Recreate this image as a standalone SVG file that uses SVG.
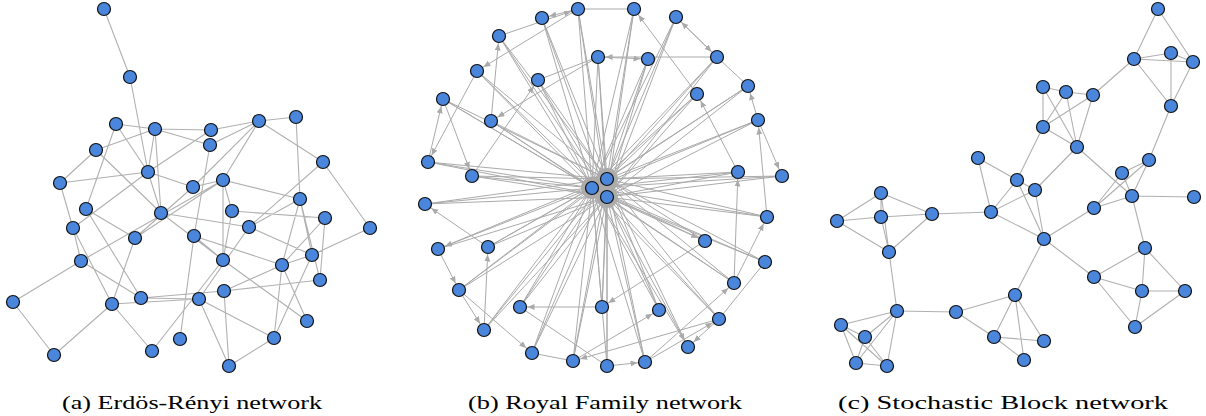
<svg xmlns="http://www.w3.org/2000/svg" width="1206" height="416" viewBox="0 0 1206 416">
<style>
.e{stroke:#b0b0b0;stroke-width:1.1;fill:none}
.eb{stroke:#aaaaaa;stroke-width:1;fill:none}
.ea{stroke:#aaaaaa;stroke-width:1;fill:none;marker-end:url(#ar)}
.n{fill:#4a86dc;stroke:#111;stroke-width:1.2}
.blob{fill:#ababab}
.cap{font-family:"Liberation Serif","DejaVu Serif",serif;font-size:19px;fill:#000}
</style>
<defs>
<marker id="ar" markerUnits="userSpaceOnUse" markerWidth="8" markerHeight="8" refX="14.5" refY="3" orient="auto"><path d="M0,0L7,3L0,6z" fill="#aaaaaa"/></marker>
</defs>
<rect width="1206" height="416" fill="#fff"/>

<!-- Panel A connectors -->
<g id="connectors-a" class="e">
<path d="M104,9L130,77M130,77L148,172M116,124L155,129M116,124L148,172M116,124L86,209M155,129L211,130M155,129L96,150M155,129L161,213M155,129L148,172M211,130L259,121M211,130L148,172M155,129L210,145M259,121L296,117M259,121L210,145M259,121L223,180M259,121L193,187M259,121L323,162M296,117L300,199M96,150L60,183M96,150L161,213M323,162L249,227M323,162L370,228M60,183L148,172M60,183L73,228M148,172L193,187M148,172L161,213M148,172L73,228M223,180L193,187M223,180L300,199M223,180L223,260M210,145L194,236M223,180L232,211M135,238L223,180M81,261L223,180M135,238L193,187"/>
<path d="M86,209L135,238M86,209L141,298M73,228L81,261M73,228L112,304M81,261L13,302M81,261L141,298M13,302L54,355M54,355L112,304M112,304L152,351M112,304L135,238M112,304L199,299M141,298L199,299M141,298L224,291M152,351L223,260M161,213L223,260M161,213L249,227M194,236L282,265M194,236L223,260M194,236L180,339M232,211L325,218M232,211L223,260M249,227L312,255M300,199L249,227M300,199L312,255M300,199L320,280M300,199L282,265M325,218L282,265M325,218L320,280M370,228L312,255M312,255L282,265M312,255L274,338M282,265L224,291M282,265L274,338M282,265L307,321M224,291L320,280M224,291L229,366M199,299L229,366M199,299L274,338M274,338L229,366M199,299L249,227M223,260L307,321"/>
</g>

<!-- Panel B connectors -->
<g id="connectors-b">
<g class="eb">
<path d="M592,188L578,9M607,179L578,9M607,197L578,9"/>
<path d="M592,188L542,18M607,179L542,18M607,197L542,18"/>
<path d="M592,188L499,36M607,179L499,36M607,197L499,36"/>
<path d="M592,188L598,57M607,179L598,57M607,197L598,57"/>
<path d="M592,188L477,71M607,179L477,71M607,197L477,71"/>
<path d="M592,188L538,80M607,179L538,80M607,197L538,80"/>
<path d="M592,188L443,99M607,179L443,99M607,197L443,99"/>
<path d="M592,188L491,121M607,179L491,121M607,197L491,121"/>
<path d="M592,188L428,162M607,179L428,162M607,197L428,162"/>
<path d="M592,188L472,176M607,179L472,176M607,197L472,176"/>
<path d="M592,188L634,9M607,179L634,9M607,197L634,9"/>
<path d="M592,188L676,17M607,179L676,17M607,197L676,17"/>
<path d="M592,188L648,59M607,179L648,59M607,197L648,59"/>
<path d="M592,188L717,57M607,179L717,57M607,197L717,57"/>
<path d="M592,188L748,86M607,179L748,86M607,197L748,86"/>
<path d="M592,188L697,94M607,179L697,94M607,197L697,94"/>
<path d="M592,188L758,120M607,179L758,120M607,197L758,120"/>
<path d="M592,188L738,172M607,179L738,172M607,197L738,172"/>
<path d="M592,188L782,176M607,179L782,176M607,197L782,176"/>
<path d="M592,188L425,204M607,179L425,204M607,197L425,204"/>
<path d="M607,179L438,249M607,197L438,249"/>
<path d="M592,188L488,247M607,179L488,247M607,197L488,247"/>
<path d="M592,188L459,290M607,179L459,290M607,197L459,290"/>
<path d="M592,188L520,307M607,179L520,307M607,197L520,307"/>
<path d="M592,188L484,330M607,179L484,330M607,197L484,330"/>
<path d="M592,188L532,353M607,179L532,353M607,197L532,353"/>
<path d="M592,188L573,361M607,179L573,361M607,197L573,361"/>
<path d="M592,188L602,307M607,179L602,307M607,197L602,307"/>
<path d="M592,188L607,366M607,179L607,366M607,197L607,366"/>
<path d="M592,188L767,217M607,179L767,217M607,197L767,217"/>
<path d="M592,188L705,241M607,179L705,241"/>
<path d="M592,188L765,262M607,179L765,262M607,197L765,262"/>
<path d="M592,188L734,283M607,179L734,283M607,197L734,283"/>
<path d="M592,188L659,310M607,179L659,310M607,197L659,310"/>
<path d="M592,188L719,319M607,179L719,319M607,197L719,319"/>
<path d="M592,188L688,347M607,179L688,347"/>
<path d="M592,188L645,362M607,179L645,362M607,197L645,362"/>
<path d="M578,9L634,9M538,80L598,57M717,57L748,86M520,307L607,366M532,353L573,361M719,319L765,262"/>
</g>
<g class="ea">
<path d="M592,188L438,249"/>
<path d="M607,197L705,241"/>
<path d="M607,197L688,347"/>
<path d="M499,36L578,9"/>
<path d="M578,9L542,18"/>
<path d="M578,9L477,71"/>
<path d="M598,57L491,121"/>
<path d="M472,176L538,80"/>
<path d="M491,121L499,36"/>
<path d="M428,162L443,99"/>
<path d="M477,71L428,162"/>
<path d="M443,99L472,176"/>
<path d="M697,94L634,9"/>
<path d="M676,17L717,57"/>
<path d="M717,57L676,17"/>
<path d="M717,57L598,57"/>
<path d="M598,57L648,59"/>
<path d="M758,120L748,86"/>
<path d="M758,120L782,176"/>
<path d="M738,172L697,94"/>
<path d="M767,217L758,120"/>
<path d="M734,283L738,172"/>
<path d="M488,247L425,204"/>
<path d="M438,249L459,290"/>
<path d="M484,330L488,247"/>
<path d="M459,290L484,330"/>
<path d="M459,290L532,353"/>
<path d="M602,307L520,307"/>
<path d="M719,319L573,361"/>
<path d="M573,361L659,310"/>
<path d="M705,241L602,307"/>
<path d="M719,319L688,347"/>
<path d="M607,366L645,362"/>
<path d="M645,362L734,283"/>
<path d="M645,362L719,319"/>
<path d="M734,283L767,217"/>
</g>
</g>

<!-- Panel C connectors -->
<g id="connectors-c" class="e">
<path d="M1158,9L1134,59M1158,9L1193,62M1134,59L1171,53M1134,59L1193,62M1171,53L1193,62M1171,53L1171,106M1134,59L1171,106M1193,62L1171,106M1134,59L1093,95M1171,106L1149,160"/>
<path d="M1043,87L1066,92M1066,92L1093,95M1043,87L1043,127M1043,87L1077,147M1066,92L1043,127M1066,92L1077,147M1093,95L1043,127M1093,95L1077,147M1043,127L1077,147M1043,127L1017,180M1077,147L1035,190M1077,147L1132,196"/>
<path d="M978,158L1017,180M978,158L991,212M1017,180L1035,190M1017,180L991,212M1035,190L991,212M1017,180L1044,239M1035,190L1044,239M991,212L1044,239M991,212L932,214"/>
<path d="M1044,239L1094,208M1044,239L1094,277M1044,239L1015,295"/>
<path d="M1149,160L1122,173M1149,160L1094,208M1149,160L1132,196M1122,173L1094,208M1122,173L1132,196M1094,208L1132,196M1132,196L1194,197M1132,196L1145,248"/>
<path d="M1145,248L1094,277M1145,248L1142,291M1145,248L1185,291M1094,277L1142,291M1094,277L1135,327M1142,291L1185,291M1142,291L1135,327M1185,291L1135,327"/>
<path d="M1015,295L956,312M1015,295L994,337M1015,295L1024,360M1015,295L1044,341M956,312L994,337M994,337L1044,341M994,337L1024,360M956,312L897,311"/>
<path d="M881,193L837,221M881,193L881,217M881,193L932,214M881,193L889,252M837,221L881,217M837,221L889,252M881,217L932,214M881,217L889,252M932,214L889,252M889,252L897,311"/>
<path d="M897,311L841,325M897,311L865,337M897,311L856,363M897,311L887,366M841,325L865,337M841,325L856,363M841,325L887,366M865,337L856,363M865,337L887,366M856,363L887,366"/>
</g>

<!-- center blob -->
<g id="hub-b">
<circle class="blob" cx="592" cy="188" r="11"/>
<circle class="blob" cx="607" cy="179" r="11"/>
<circle class="blob" cx="607" cy="197" r="11"/>
</g>

<!-- Panel A nodes -->
<g id="nodes-a">
<circle id="a1" class="n" cx="104" cy="9" r="6.5"/>
<circle id="a2" class="n" cx="130" cy="77" r="6.5"/>
<circle id="a3" class="n" cx="116" cy="124" r="6.5"/>
<circle id="a4" class="n" cx="155" cy="129" r="6.5"/>
<circle id="a5" class="n" cx="211" cy="130" r="6.5"/>
<circle id="a6" class="n" cx="259" cy="121" r="6.5"/>
<circle id="a7" class="n" cx="296" cy="117" r="6.5"/>
<circle id="a8" class="n" cx="96" cy="150" r="6.5"/>
<circle id="a9" class="n" cx="210" cy="145" r="6.5"/>
<circle id="a10" class="n" cx="323" cy="162" r="6.5"/>
<circle id="a11" class="n" cx="60" cy="183" r="6.5"/>
<circle id="a12" class="n" cx="148" cy="172" r="6.5"/>
<circle id="a13" class="n" cx="223" cy="180" r="6.5"/>
<circle id="a14" class="n" cx="193" cy="187" r="6.5"/>
<circle id="a15" class="n" cx="86" cy="209" r="6.5"/>
<circle id="a16" class="n" cx="161" cy="213" r="6.5"/>
<circle id="a17" class="n" cx="232" cy="211" r="6.5"/>
<circle id="a18" class="n" cx="300" cy="199" r="6.5"/>
<circle id="a19" class="n" cx="325" cy="218" r="6.5"/>
<circle id="a20" class="n" cx="249" cy="227" r="6.5"/>
<circle id="a21" class="n" cx="370" cy="228" r="6.5"/>
<circle id="a22" class="n" cx="73" cy="228" r="6.5"/>
<circle id="a23" class="n" cx="135" cy="238" r="6.5"/>
<circle id="a24" class="n" cx="194" cy="236" r="6.5"/>
<circle id="a25" class="n" cx="312" cy="255" r="6.5"/>
<circle id="a26" class="n" cx="81" cy="261" r="6.5"/>
<circle id="a27" class="n" cx="223" cy="260" r="6.5"/>
<circle id="a28" class="n" cx="282" cy="265" r="6.5"/>
<circle id="a29" class="n" cx="320" cy="280" r="6.5"/>
<circle id="a30" class="n" cx="224" cy="291" r="6.5"/>
<circle id="a31" class="n" cx="141" cy="298" r="6.5"/>
<circle id="a32" class="n" cx="199" cy="299" r="6.5"/>
<circle id="a33" class="n" cx="13" cy="302" r="6.5"/>
<circle id="a34" class="n" cx="112" cy="304" r="6.5"/>
<circle id="a35" class="n" cx="307" cy="321" r="6.5"/>
<circle id="a36" class="n" cx="180" cy="339" r="6.5"/>
<circle id="a37" class="n" cx="274" cy="338" r="6.5"/>
<circle id="a38" class="n" cx="152" cy="351" r="6.5"/>
<circle id="a39" class="n" cx="54" cy="355" r="6.5"/>
<circle id="a40" class="n" cx="229" cy="366" r="6.5"/>
</g>

<!-- Panel B nodes -->
<g id="nodes-b">
<circle id="b1" class="n" cx="578" cy="9" r="6.5"/>
<circle id="b2" class="n" cx="542" cy="18" r="6.5"/>
<circle id="b3" class="n" cx="499" cy="36" r="6.5"/>
<circle id="b4" class="n" cx="598" cy="57" r="6.5"/>
<circle id="b5" class="n" cx="477" cy="71" r="6.5"/>
<circle id="b6" class="n" cx="538" cy="80" r="6.5"/>
<circle id="b7" class="n" cx="443" cy="99" r="6.5"/>
<circle id="b8" class="n" cx="491" cy="121" r="6.5"/>
<circle id="b9" class="n" cx="428" cy="162" r="6.5"/>
<circle id="b10" class="n" cx="472" cy="176" r="6.5"/>
<circle id="b11" class="n" cx="634" cy="9" r="6.5"/>
<circle id="b12" class="n" cx="676" cy="17" r="6.5"/>
<circle id="b13" class="n" cx="648" cy="59" r="6.5"/>
<circle id="b14" class="n" cx="717" cy="57" r="6.5"/>
<circle id="b15" class="n" cx="748" cy="86" r="6.5"/>
<circle id="b16" class="n" cx="697" cy="94" r="6.5"/>
<circle id="b17" class="n" cx="758" cy="120" r="6.5"/>
<circle id="b18" class="n" cx="738" cy="172" r="6.5"/>
<circle id="b19" class="n" cx="782" cy="176" r="6.5"/>
<circle id="b20" class="n" cx="425" cy="204" r="6.5"/>
<circle id="b21" class="n" cx="438" cy="249" r="6.5"/>
<circle id="b22" class="n" cx="488" cy="247" r="6.5"/>
<circle id="b23" class="n" cx="459" cy="290" r="6.5"/>
<circle id="b24" class="n" cx="520" cy="307" r="6.5"/>
<circle id="b25" class="n" cx="484" cy="330" r="6.5"/>
<circle id="b26" class="n" cx="532" cy="353" r="6.5"/>
<circle id="b27" class="n" cx="573" cy="361" r="6.5"/>
<circle id="b28" class="n" cx="602" cy="307" r="6.5"/>
<circle id="b29" class="n" cx="607" cy="366" r="6.5"/>
<circle id="b30" class="n" cx="767" cy="217" r="6.5"/>
<circle id="b31" class="n" cx="705" cy="241" r="6.5"/>
<circle id="b32" class="n" cx="765" cy="262" r="6.5"/>
<circle id="b33" class="n" cx="734" cy="283" r="6.5"/>
<circle id="b34" class="n" cx="659" cy="310" r="6.5"/>
<circle id="b35" class="n" cx="719" cy="319" r="6.5"/>
<circle id="b36" class="n" cx="688" cy="347" r="6.5"/>
<circle id="b37" class="n" cx="645" cy="362" r="6.5"/>
<circle id="b38" class="n" cx="592" cy="188" r="6.5"/>
<circle id="b39" class="n" cx="607" cy="179" r="6.5"/>
<circle id="b40" class="n" cx="607" cy="197" r="6.5"/>
</g>

<!-- Panel C nodes -->
<g id="nodes-c">
<circle id="c1" class="n" cx="1158" cy="9" r="6.5"/>
<circle id="c2" class="n" cx="1134" cy="59" r="6.5"/>
<circle id="c3" class="n" cx="1171" cy="53" r="6.5"/>
<circle id="c4" class="n" cx="1193" cy="62" r="6.5"/>
<circle id="c5" class="n" cx="1171" cy="106" r="6.5"/>
<circle id="c6" class="n" cx="1043" cy="87" r="6.5"/>
<circle id="c7" class="n" cx="1066" cy="92" r="6.5"/>
<circle id="c8" class="n" cx="1093" cy="95" r="6.5"/>
<circle id="c9" class="n" cx="1043" cy="127" r="6.5"/>
<circle id="c10" class="n" cx="1077" cy="147" r="6.5"/>
<circle id="c11" class="n" cx="978" cy="158" r="6.5"/>
<circle id="c12" class="n" cx="1017" cy="180" r="6.5"/>
<circle id="c13" class="n" cx="1035" cy="190" r="6.5"/>
<circle id="c14" class="n" cx="991" cy="212" r="6.5"/>
<circle id="c15" class="n" cx="1044" cy="239" r="6.5"/>
<circle id="c16" class="n" cx="1149" cy="160" r="6.5"/>
<circle id="c17" class="n" cx="1122" cy="173" r="6.5"/>
<circle id="c18" class="n" cx="1094" cy="208" r="6.5"/>
<circle id="c19" class="n" cx="1132" cy="196" r="6.5"/>
<circle id="c20" class="n" cx="1194" cy="197" r="6.5"/>
<circle id="c21" class="n" cx="1145" cy="248" r="6.5"/>
<circle id="c22" class="n" cx="1094" cy="277" r="6.5"/>
<circle id="c23" class="n" cx="1142" cy="291" r="6.5"/>
<circle id="c24" class="n" cx="1185" cy="291" r="6.5"/>
<circle id="c25" class="n" cx="1135" cy="327" r="6.5"/>
<circle id="c26" class="n" cx="1015" cy="295" r="6.5"/>
<circle id="c27" class="n" cx="956" cy="312" r="6.5"/>
<circle id="c28" class="n" cx="994" cy="337" r="6.5"/>
<circle id="c29" class="n" cx="1044" cy="341" r="6.5"/>
<circle id="c30" class="n" cx="1024" cy="360" r="6.5"/>
<circle id="c31" class="n" cx="881" cy="193" r="6.5"/>
<circle id="c32" class="n" cx="837" cy="221" r="6.5"/>
<circle id="c33" class="n" cx="881" cy="217" r="6.5"/>
<circle id="c34" class="n" cx="932" cy="214" r="6.5"/>
<circle id="c35" class="n" cx="889" cy="252" r="6.5"/>
<circle id="c36" class="n" cx="897" cy="311" r="6.5"/>
<circle id="c37" class="n" cx="841" cy="325" r="6.5"/>
<circle id="c38" class="n" cx="865" cy="337" r="6.5"/>
<circle id="c39" class="n" cx="856" cy="363" r="6.5"/>
<circle id="c40" class="n" cx="887" cy="366" r="6.5"/>
</g>

<g id="captions">
<text class="cap" x="62" y="409" textLength="260" lengthAdjust="spacingAndGlyphs">(a) Erdös-Rényi network</text>
<text class="cap" x="468" y="409" textLength="274" lengthAdjust="spacingAndGlyphs">(b) Royal Family network</text>
<text class="cap" x="838" y="409" textLength="330" lengthAdjust="spacingAndGlyphs">(c) Stochastic Block network</text>
</g>
</svg>
